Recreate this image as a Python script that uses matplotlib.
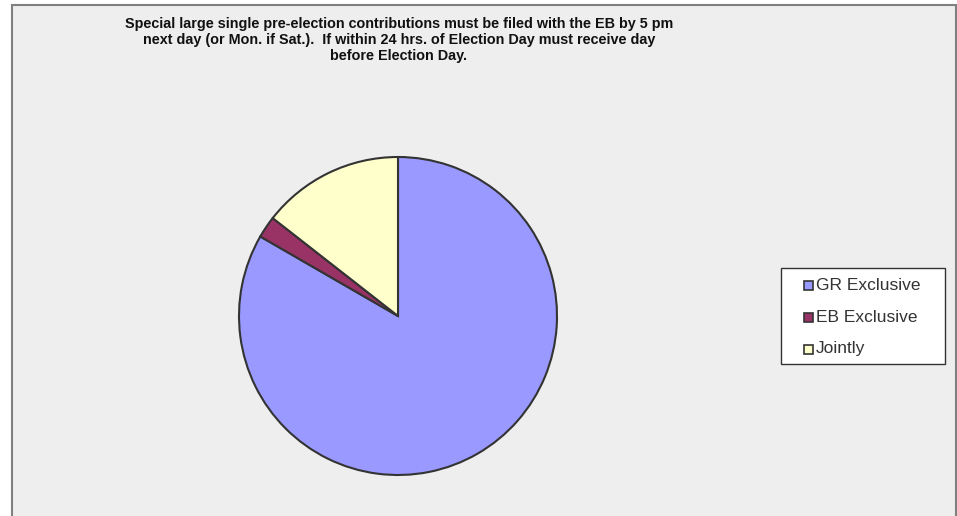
import matplotlib
matplotlib.use("Agg")
import matplotlib.pyplot as plt
from matplotlib.patches import Rectangle

labels = ["GR Exclusive", "EB Exclusive", "Jointly"]
values = [75, 2, 13]
colors = ["#9999FF", "#993366", "#FFFFCC"]
title = ("Special large single pre-election contributions must be filed with the EB by 5 pm\n"
         "next day (or Mon. if Sat.).  If within 24 hrs. of Election Day must receive day\n"
         "before Election Day.")

plt.rcParams["font.family"] = ["Liberation Sans", "DejaVu Sans"]

W, H = 957, 516
fig = plt.figure(figsize=(W / 100, H / 100), dpi=100)
fig.patch.set_facecolor("white")


def fx(px):
    return px / W


def fy(py):
    return 1 - py / H


# outer chart frame
fig.patches.append(Rectangle((fx(12), -0.05), fx(956 - 12), 1.05 - 5 / H,
                             transform=fig.transFigure, facecolor="#EEEEEE",
                             edgecolor="#808080", linewidth=1.5, zorder=-5))

cx, cy, r = 398, 316, 159
ax = fig.add_axes([fx(cx - r), fy(cy + r), 2 * r / W, 2 * r / H])
ax.set_zorder(2)
ax.pie(values, colors=colors, startangle=90, counterclock=False,
       wedgeprops=dict(edgecolor="#333333", linewidth=1.5))
ax.set_aspect("equal")
ax.set_xlim(-1, 1)
ax.set_ylim(-1, 1)
ax.axis("off")

fig.text(fx(399), fy(40), title, ha="center", va="center", fontsize=10.4,
         fontweight="bold", color="#111111", linespacing=1.22)

# legend box
lx0, ly0, lx1, ly1 = 781, 268, 945, 364
fig.patches.append(Rectangle((fx(lx0), fy(ly1)), fx(lx1 - lx0), (ly1 - ly0) / H,
                             transform=fig.transFigure, facecolor="white",
                             edgecolor="#333333", linewidth=1.0, zorder=3))
rows = [285, 317, 349]
sq = 9
for lab, col, ry in zip(labels, colors, rows):
    fig.patches.append(Rectangle((fx(804), fy(ry + sq / 2)), sq / W, sq / H,
                                 transform=fig.transFigure, facecolor=col,
                                 edgecolor="#333333", linewidth=1.2, zorder=4))
    fig.text(fx(816), fy(ry), lab, ha="left", va="center", fontsize=12.5,
             color="#333333", zorder=4)

fig.savefig("out.png", dpi=100)
